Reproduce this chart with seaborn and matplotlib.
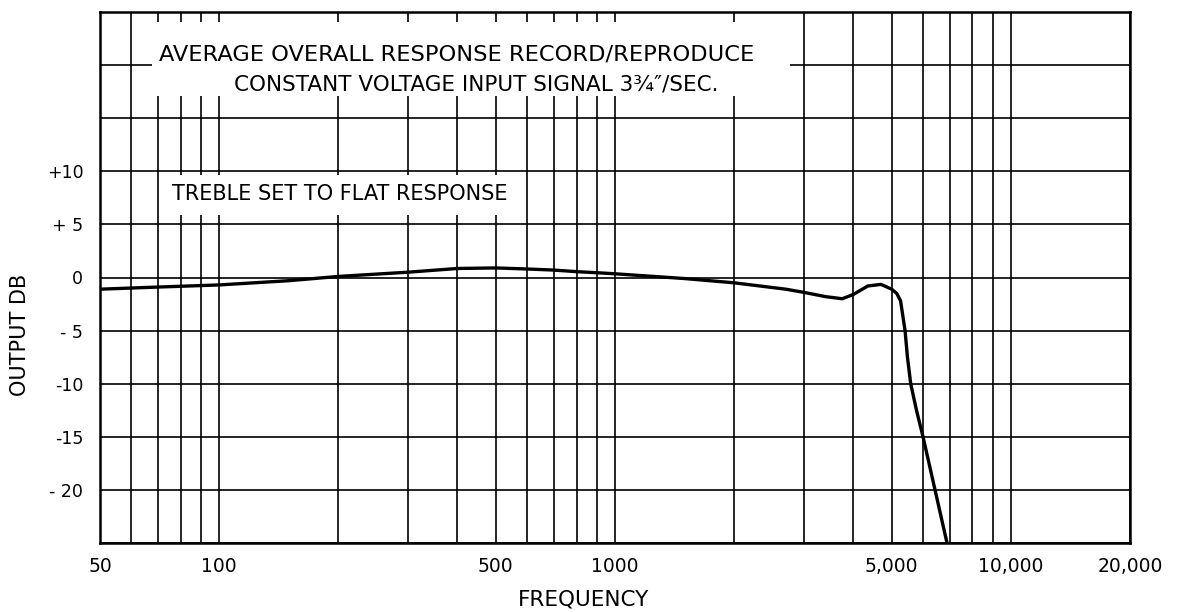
import numpy as np
import pandas as pd
import matplotlib
matplotlib.use("Agg")
import matplotlib.pyplot as plt
import matplotlib.ticker as mticker
from matplotlib.patches import Rectangle
import seaborn as sns


# response curve (Hz, dB)
freq_hz = [50, 70, 100, 150, 200, 300, 400, 500, 600, 700, 800, 900, 1000,
           1500, 2000, 2700, 3000, 3400, 3750, 4000, 4350, 4700, 5000,
           5150, 5265, 5405, 5480, 5585, 5776, 6000, 6213, 6434, 6662, 6899]
output_db = [-1.1, -0.9, -0.7, -0.3, 0.1, 0.5, 0.85, 0.9, 0.8, 0.7, 0.55, 0.45, 0.35,
             -0.1, -0.5, -1.1, -1.4, -1.8, -2.0, -1.6, -0.8, -0.65, -1.1,
             -1.5, -2.2, -5.0, -7.5, -10.0, -12.5, -15.0, -17.5, -20.0, -22.5, -25.0]

x_ticks = [50, 100, 500, 1000, 5000, 10000, 20000]
x_labels = ["50", "100", "500", "1000", "5,000", "10,000", "20,000"]
y_ticks = [10, 5, 0, -5, -10, -15, -20]
y_labels = ["+10", "+ 5", "0", "- 5", "-10", "-15", "- 20"]

title_1 = "AVERAGE OVERALL RESPONSE RECORD/REPRODUCE"
title_2 = "CONSTANT VOLTAGE INPUT SIGNAL 3\u00be\u2033/SEC."
note = "TREBLE SET TO FLAT RESPONSE"

W, H = 1190, 612

sns.set_theme(style="white")
plt.rcParams['font.family'] = ['DejaVu Sans']

fig = plt.figure(figsize=(W / 100, H / 100), dpi=100)
ax = fig.add_axes([100 / W, 1 - 543 / H, 1030 / W, 531 / H])

df = pd.DataFrame({"freq": freq_hz, "db": output_db})
sns.lineplot(data=df, x="freq", y="db", ax=ax, color="black", linewidth=2.4,
             sort=False, estimator=None, zorder=3)

ax.set_xscale("log")
ax.set_xlim(50, 20000)
ax.set_ylim(-25, 25)

ax.xaxis.set_major_locator(mticker.FixedLocator(x_ticks))
ax.xaxis.set_major_formatter(mticker.FixedFormatter(x_labels))
ax.xaxis.set_minor_locator(mticker.LogLocator(base=10, subs=np.arange(2, 10)))
ax.xaxis.set_minor_formatter(mticker.NullFormatter())
ax.yaxis.set_major_locator(mticker.FixedLocator(y_ticks))
ax.yaxis.set_major_formatter(mticker.FixedFormatter(y_labels))
ax.yaxis.set_minor_locator(mticker.MultipleLocator(5))

ax.grid(True, which="both", color="black", linewidth=1.2)
ax.set_axisbelow(True)
ax.tick_params(which="both", length=0)
ax.tick_params(axis="x", pad=10, labelsize=13.5, colors="black")
ax.tick_params(axis="y", pad=12, labelsize=12.5, colors="black")

for s in ax.spines.values():
    s.set_color("black")
    s.set_linewidth(1.8)

ax.set_xlabel("")
ax.set_ylabel("")

# white patches where the lettering sits over the grid
ax.add_patch(Rectangle((0.05, 0.842), 0.62, 0.139, transform=ax.transAxes,
                       facecolor="white", edgecolor="none", zorder=1))
ax.add_patch(Rectangle((0.060, 0.618), 0.35, 0.075, transform=ax.transAxes,
                       facecolor="white", edgecolor="none", zorder=1))

fig.text(457 / W, 1 - 55 / H, title_1, ha="center", va="center", fontsize=16.2, color="black")
fig.text(476 / W, 1 - 84 / H, title_2, ha="center", va="center", fontsize=15.5, color="black")
fig.text(340 / W, 1 - 194 / H, note, ha="center", va="center", fontsize=15, color="black")

fig.text(20 / W, 1 - 335 / H, "OUTPUT DB", rotation=90, ha="center", va="center",
         fontsize=15, color="black")
fig.text(584 / W, 1 - 600 / H, "FREQUENCY", ha="center", va="center",
         fontsize=15.5, color="black")

fig.savefig("out.png", dpi=100, facecolor="white")
